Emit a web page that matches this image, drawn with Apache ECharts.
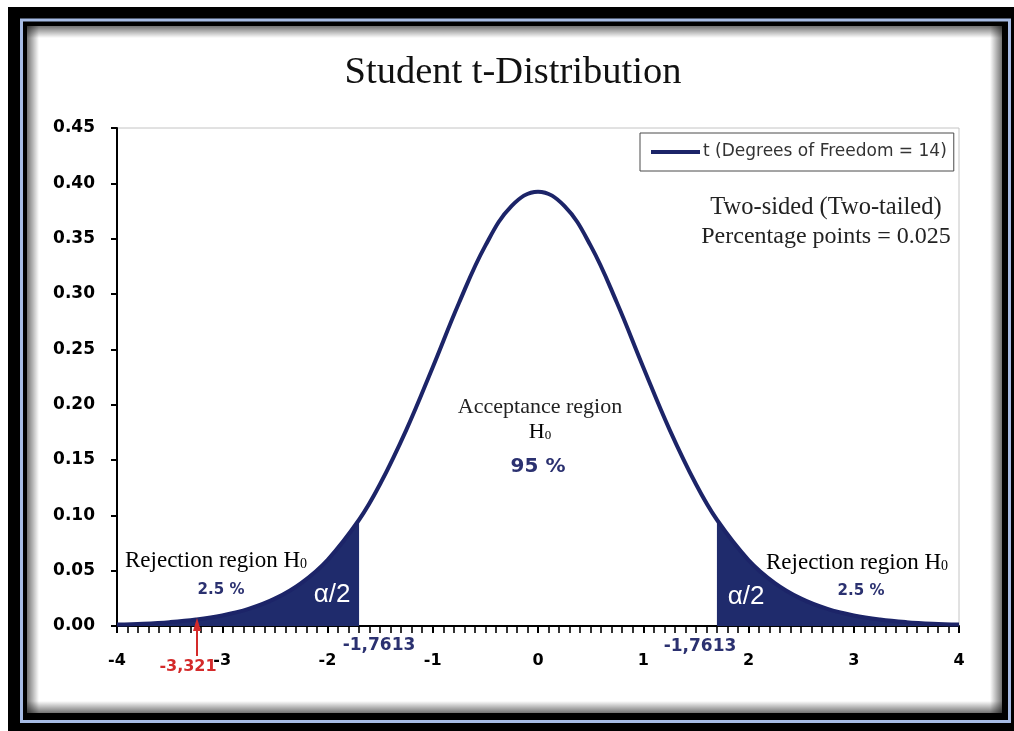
<!DOCTYPE html>
<html><head><meta charset="utf-8">
<script src="https://cdn.jsdelivr.net/npm/echarts@6/dist/echarts.min.js"></script>
<style>html,body{margin:0;padding:0;background:#fff}#c{width:1014px;height:731px}</style>
</head><body><div id="c"></div>
<script>
// t values (x) and density
const tValues = [-4, -3.75, -3.5, -3.25, -3, -2.75, -2.5, -2.25, -2, -1.7, -1.5, -1.25, -1, -0.75, -0.5, -0.25, 0,
                 0.25, 0.5, 0.75, 1, 1.25, 1.5, 1.7, 2, 2.25, 2.5, 2.75, 3, 3.25, 3.5, 3.75, 4];
const density = [0.0013, 0.0021, 0.0035, 0.0058, 0.0095, 0.0154, 0.0247, 0.0388, 0.0596, 0.0960, 0.1283, 0.1775, 0.2339, 0.2921, 0.3437, 0.3796, 0.3925,
                 0.3796, 0.3437, 0.2921, 0.2339, 0.1775, 0.1283, 0.0960, 0.0596, 0.0388, 0.0247, 0.0154, 0.0095, 0.0058, 0.0035, 0.0021, 0.0013];
const leftTailEnd = -1.7;
const rightTailStart = 1.7;
const xTickLabels = ['-4', '-3', '-2', '-1', '0', '1', '2', '3', '4'];
const yTickLabels = ['0.00', '0.05', '0.10', '0.15', '0.20', '0.25', '0.30', '0.35', '0.40', '0.45'];
const seriesName = 't (Degrees of Freedom = 14)';

const curve = tValues.map((t, i) => [t, density[i]]);
const leftTail = curve.filter(p => p[0] <= leftTailEnd);
const rightTail = curve.filter(p => p[0] >= rightTailStart);

const NAVY_LINE = '#1c2468';
const NAVY_FILL = '#1f2b6c';
const NAVY_TEXT = '#2b3170';
const SERIF = '"Liberation Serif","Times New Roman",serif';
const SANSB = '"DejaVu Sans",sans-serif';

const chart = echarts.init(document.getElementById('c'), null, {renderer: 'canvas'});

function sText(x, y, text, opt) {
  return {type: 'text', x: x, y: y, z: 100, style: Object.assign({text: text}, opt)};
}
function subText(x, y, main, size, align) {
  return {type: 'text', x: x, y: y, z: 100, style: {
    text: '{h|' + main + '}{s|0}', align: align, verticalAlign: 'middle',
    rich: {h: {fontFamily: SERIF, fontSize: size, color: '#222'},
           s: {fontFamily: SERIF, fontSize: Math.round(size * 0.6), color: '#222', padding: [7, 0, 0, 0]}}}};
}

const option = {
  animation: false,
  backgroundColor: '#ffffff',
  title: {
    text: 'Student t-Distribution',
    left: 508, top: 48, textAlign: 'center',
    textStyle: {fontFamily: SERIF, fontSize: 38.5, fontWeight: 'normal', color: '#111'}
  },
  legend: {
    data: [{name: seriesName, icon: 'rect'}],
    left: 640, top: 133,
    itemWidth: 49, itemHeight: 4, itemGap: 4,
    padding: [9, 7, 9, 11],
    borderColor: '#4a4a4a', borderWidth: 1,
    textStyle: {fontFamily: SANSB, fontSize: 17, color: '#333', lineHeight: 20, padding: [0, 0, 0, -2]}
  },
  grid: {left: 117, right: 55, top: 128, bottom: 105, show: true, borderColor: '#c4c4c4', borderWidth: 1, backgroundColor: 'transparent'},
  xAxis: {
    type: 'value', min: -4, max: 4, interval: 1,
    axisLine: {show: true, onZero: false, lineStyle: {color: '#000', width: 2}},
    axisTick: {show: true, inside: false, length: 7, lineStyle: {color: '#000', width: 2}},
    minorTick: {show: true, splitNumber: 10, length: 7, lineStyle: {color: '#000', width: 1.6}},
    splitLine: {show: false}, minorSplitLine: {show: false},
    axisLabel: {
      margin: 27, color: '#000', fontFamily: SANSB, fontWeight: 'bold', fontSize: 16,
      formatter: v => xTickLabels[Math.round(v) + 4]
    }
  },
  yAxis: {
    type: 'value', min: 0, max: 0.45, interval: 0.05,
    axisLine: {show: true, onZero: false, lineStyle: {color: '#000', width: 2}},
    axisTick: {show: true, inside: false, length: 6, lineStyle: {color: '#000', width: 2}},
    splitLine: {show: false},
    axisLabel: {
      margin: 22, color: '#000', fontFamily: SANSB, fontWeight: 'bold', fontSize: 17,
      formatter: v => yTickLabels[Math.round(v / 0.05)]
    }
  },
  series: [
    {name: 'leftTail', type: 'line', data: leftTail, smooth: 0.4, showSymbol: false, z: 1,
     lineStyle: {width: 1, color: NAVY_FILL}, itemStyle: {color: NAVY_FILL},
     areaStyle: {color: NAVY_FILL, opacity: 1}, silent: true},
    {name: 'rightTail', type: 'line', data: rightTail, smooth: 0.4, showSymbol: false, z: 1,
     lineStyle: {width: 1, color: NAVY_FILL}, itemStyle: {color: NAVY_FILL},
     areaStyle: {color: NAVY_FILL, opacity: 1}, silent: true},
    {name: seriesName, type: 'line', data: curve, smooth: 0.4, showSymbol: false, z: 3,
     lineStyle: {width: 4, color: NAVY_LINE}, itemStyle: {color: NAVY_LINE}}
  ],
  graphic: [
    // frame
    {type: 'rect', z: -20, shape: {x: 8, y: 7, width: 1006, height: 724}, style: {fill: '#000'}},
    {type: 'rect', z: -19, shape: {x: 21.5, y: 20, width: 988, height: 701.5}, style: {fill: 'none', stroke: '#a6bbe4', lineWidth: 3}},
    {type: 'rect', z: -18, shape: {x: 27, y: 26, width: 975, height: 687}, style: {fill: '#fff'}},
    {type: 'rect', z: -17, shape: {x: 27, y: 26, width: 975, height: 12},
     style: {fill: new echarts.graphic.LinearGradient(0, 0, 0, 1, [{offset: 0, color: 'rgba(0,0,0,0.55)'}, {offset: 1, color: 'rgba(0,0,0,0)'}])}},
    {type: 'rect', z: -17, shape: {x: 27, y: 26, width: 12, height: 687},
     style: {fill: new echarts.graphic.LinearGradient(0, 0, 1, 0, [{offset: 0, color: 'rgba(0,0,0,0.55)'}, {offset: 1, color: 'rgba(0,0,0,0)'}])}},
    {type: 'rect', z: -17, shape: {x: 990, y: 26, width: 12, height: 687},
     style: {fill: new echarts.graphic.LinearGradient(0, 0, 1, 0, [{offset: 0, color: 'rgba(0,0,0,0)'}, {offset: 1, color: 'rgba(0,0,0,0.55)'}])}},
    {type: 'rect', z: -17, shape: {x: 27, y: 701, width: 975, height: 12},
     style: {fill: new echarts.graphic.LinearGradient(0, 0, 0, 1, [{offset: 0, color: 'rgba(0,0,0,0)'}, {offset: 1, color: 'rgba(0,0,0,0.55)'}])}},

    // annotations
    sText(826, 208, 'Two-sided (Two-tailed)', {font: '24.5px ' + SERIF, fill: '#222', align: 'center', verticalAlign: 'middle'}),
    sText(826, 237, 'Percentage points = 0.025', {font: '24px ' + SERIF, fill: '#222', align: 'center', verticalAlign: 'middle'}),
    sText(540, 407, 'Acceptance region', {font: '22px ' + SERIF, fill: '#222', align: 'center', verticalAlign: 'middle'}),
    subText(540, 432, 'H', 22, 'center'),
    sText(538, 467, '95 %', {font: 'bold 20px ' + SANSB, fill: NAVY_TEXT, align: 'center', verticalAlign: 'middle'}),

    subText(125, 561, 'Rejection region H', 23, 'left'),
    sText(221, 590, '2.5 %', {font: 'bold 15px ' + SANSB, fill: NAVY_TEXT, align: 'center', verticalAlign: 'middle'}),
    sText(332, 595, 'α/2', {font: '26px "Liberation Sans",sans-serif', fill: '#fff', align: 'center', verticalAlign: 'middle'}),

    subText(766, 563, 'Rejection region H', 23, 'left'),
    sText(861, 591, '2.5 %', {font: 'bold 15px ' + SANSB, fill: NAVY_TEXT, align: 'center', verticalAlign: 'middle'}),
    sText(746, 597, 'α/2', {font: '26px "Liberation Sans",sans-serif', fill: '#fff', align: 'center', verticalAlign: 'middle'}),

    sText(379, 646, '-1,7613', {font: 'bold 17px ' + SANSB, fill: NAVY_TEXT, align: 'center', verticalAlign: 'middle'}),
    sText(700, 647, '-1,7613', {font: 'bold 17px ' + SANSB, fill: NAVY_TEXT, align: 'center', verticalAlign: 'middle'}),

    sText(188, 667, '-3,321', {font: 'bold 16px ' + SANSB, fill: '#d42a2a', align: 'center', verticalAlign: 'middle'}),
    {type: 'line', z: 100, shape: {x1: 197, y1: 656, x2: 197, y2: 628}, style: {stroke: '#d42a2a', lineWidth: 2}},
    {type: 'polygon', z: 100, shape: {points: [[197, 618], [193, 631], [201, 631]]}, style: {fill: '#d42a2a'}}
  ]
};
chart.setOption(option);
</script>
</body></html>
